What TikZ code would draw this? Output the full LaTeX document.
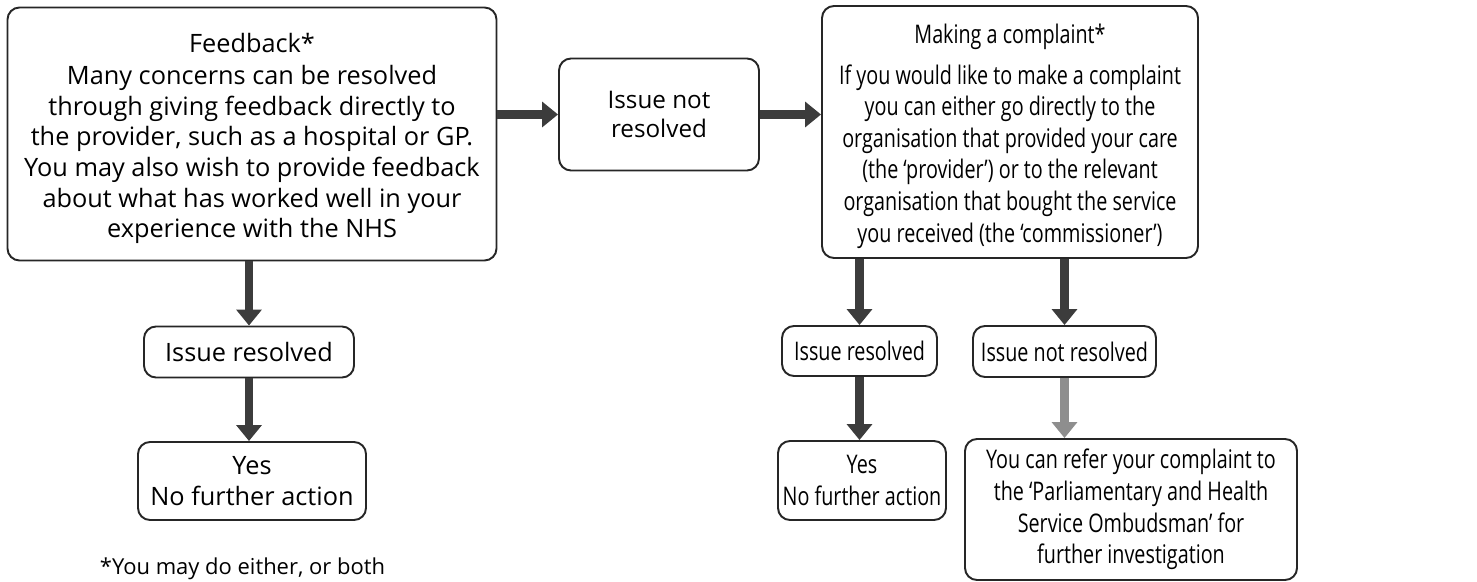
\documentclass[tikz,border=0pt]{standalone}
\usepackage{fontspec}
\setmainfont{Open Sans}
\newfontfamily\condensedfont[FakeStretch=0.77,Ligatures=TeX]{Open Sans}
\usetikzlibrary{arrows.meta}
\definecolor{arrowgrey}{HTML}{3C3C3C}
\definecolor{lightarrow}{HTML}{8E8E8E}
\begin{document}
\begin{tikzpicture}[
  box/.style={draw=black!85,line width=1.1pt,rounded corners=0.24cm,fill=white,align=center,
    font=\fontsize{14.4}{17.4}\selectfont,inner sep=2pt},
  narrow box/.style={box,font=\condensedfont\fontsize{14.6}{18}\selectfont},
  thick arrow/.style={draw=arrowgrey,line width=5pt,-{Triangle[width=14pt,length=9pt]}},
  light arrow/.style={thick arrow,draw=lightarrow}
]
  \useasboundingbox (0,0) rectangle (29.54,-11.64);

  % Boxes
  \node[box,minimum width=9.78cm,minimum height=5.06cm] (feedback) at (5.04,-2.68)
    {\rule{0pt}{16pt}Feedback*\\[1pt]
     Many concerns can be resolved\\
     through giving feedback directly to\\
     the provider, such as a hospital or GP.\\
     You may also wish to provide feedback\\
     about what has worked well in your\\
     experience with the NHS};
  \node[box,minimum width=4cm,minimum height=2.24cm,font=\fontsize{13.8}{17}\selectfont] (notresolved) at (13.18,-2.29)
    {Issue not\\resolved};
  \node[narrow box,minimum width=7.52cm,minimum height=5.04cm] (complaint) at (20.2,-2.64)
    {\rule{0pt}{16pt}Making a complaint*\\[5pt]
     If you would like to make a complaint\\
     you can either go directly to the\\
     organisation that provided your care\\
     (the ‘provider’) or to the relevant\\
     organisation that bought the service\\
     you received (the ‘commissioner’)};

  \node[box,minimum width=4.2cm,minimum height=1.02cm] (fbresolved) at (4.98,-7.04) {Issue resolved};
  \node[box,minimum width=4.56cm,minimum height=1.56cm] (fbyes) at (5.04,-9.62) {Yes\\No further action};

  \node[narrow box,minimum width=3.1cm,minimum height=1.0cm] (cpresolved) at (17.19,-7.02) {Issue resolved};
  \node[narrow box,minimum width=3.66cm,minimum height=1.02cm] (cpnotresolved) at (21.29,-7.03) {Issue not resolved};
  \node[narrow box,minimum width=3.36cm,minimum height=1.58cm] (cpyes) at (17.24,-9.61) {Yes\\No further action};
  \node[narrow box,minimum width=6.64cm,minimum height=2.82cm] (ombudsman) at (22.62,-10.19)
    {You can refer your complaint to\\
     the ‘Parliamentary and Health\\
     Service Ombudsman’ for\\
     further investigation};

  % Footnote
  \node[font=\fontsize{12.5}{14}\selectfont] (footnote) at (4.85,-11.38) {*You may do either, or both};

  % Arrows
  \draw[thick arrow] (feedback.east |- notresolved.west) -- (notresolved.west);
  \draw[thick arrow] (notresolved.east) -- (complaint.west |- notresolved.east);
  \draw[thick arrow] (feedback.south -| fbresolved.north) -- (fbresolved.north);
  \draw[thick arrow] (fbresolved.south) -- (fbyes.north -| fbresolved.south);
  \draw[thick arrow] (complaint.south -| cpresolved.north) -- (cpresolved.north);
  \draw[thick arrow] (complaint.south -| cpnotresolved.north) -- (cpnotresolved.north);
  \draw[thick arrow] (cpresolved.south) -- (cpyes.north -| cpresolved.south);
  \draw[light arrow] (cpnotresolved.south) -- (ombudsman.north -| cpnotresolved.south);
\end{tikzpicture}
\end{document}
